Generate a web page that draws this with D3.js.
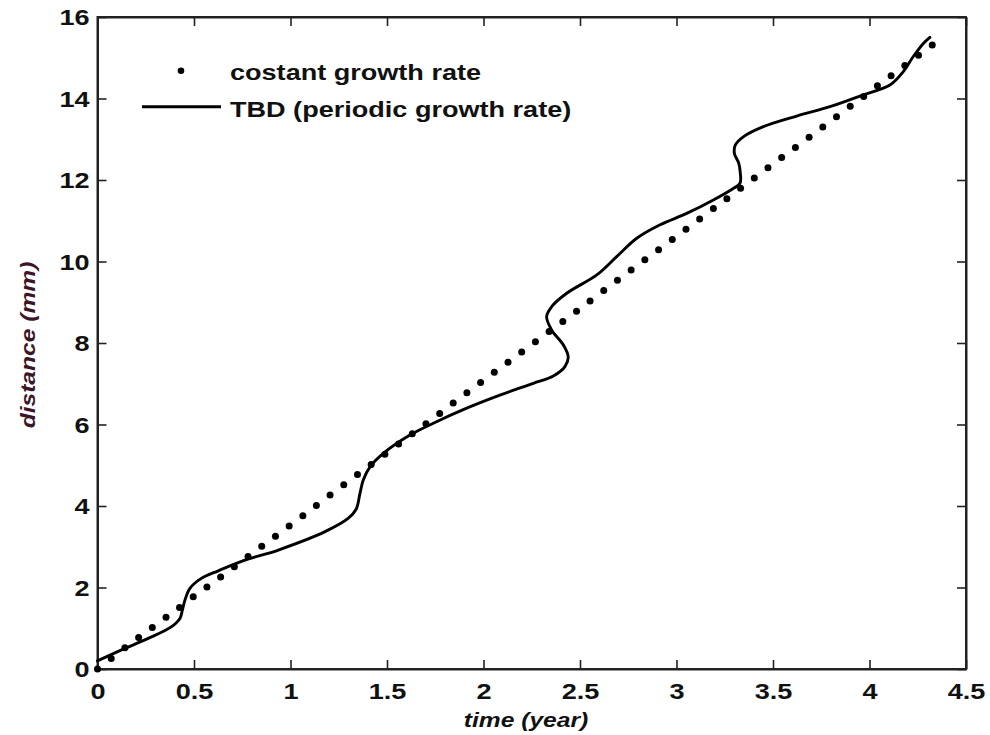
<!DOCTYPE html>
<html>
<head>
<meta charset="utf-8">
<script src="https://cdn.jsdelivr.net/npm/d3@7"></script>
<style>
  html, body { margin: 0; padding: 0; background: #fff; }
  svg { display: block; }
</style>
</head>
<body>
<svg id="chart" width="990" height="735"></svg>
<script>
// ---- data ----
const xTicks = [0, 0.5, 1, 1.5, 2, 2.5, 3, 3.5, 4, 4.5];
const xTickLabels = ["0", "0.5", "1", "1.5", "2", "2.5", "3", "3.5", "4", "4.5"];
const yTicks = [0, 2, 4, 6, 8, 10, 12, 14, 16];
const yTickLabels = ["0", "2", "4", "6", "8", "10", "12", "14", "16"];

const seriesNames = ["costant growth rate", "TBD (periodic growth rate)"];

// constant growth rate (dots)
const constT = [0, 0.071, 0.142, 0.213, 0.284, 0.355, 0.425, 0.496, 0.567, 0.638,
  0.709, 0.780, 0.851, 0.922, 0.993, 1.064, 1.134, 1.205, 1.276, 1.347,
  1.418, 1.489, 1.560, 1.631, 1.702, 1.773, 1.843, 1.914, 1.985, 2.056,
  2.127, 2.198, 2.269, 2.340, 2.411, 2.482, 2.552, 2.623, 2.694, 2.765,
  2.836, 2.907, 2.978, 3.049, 3.120, 3.191, 3.261, 3.332, 3.403, 3.474,
  3.545, 3.616, 3.687, 3.758, 3.829, 3.900, 3.970, 4.041, 4.112, 4.183,
  4.254, 4.325];
const constD = [0.00, 0.26, 0.52, 0.77, 1.02, 1.27, 1.51, 1.77, 2.01, 2.26,
  2.51, 2.76, 3.01, 3.26, 3.51, 3.76, 4.01, 4.27, 4.52, 4.77,
  5.02, 5.27, 5.52, 5.77, 6.02, 6.27, 6.53, 6.78, 7.03, 7.28,
  7.53, 7.78, 8.03, 8.28, 8.53, 8.78, 9.03, 9.29, 9.54, 9.79,
  10.04, 10.29, 10.54, 10.79, 11.04, 11.30, 11.54, 11.80, 12.05, 12.30,
  12.55, 12.80, 13.05, 13.30, 13.55, 13.81, 14.05, 14.31, 14.56, 14.81,
  15.06, 15.31];

// TBD periodic growth rate (solid line, traced in path order)
const tbdT = [0, 0.125, 0.263, 0.384, 0.427, 0.440, 0.453, 0.479, 0.540, 0.626,
  0.764, 0.937, 1.179, 1.300, 1.340, 1.360, 1.377, 1.412, 1.481, 1.619,
  1.740, 1.913, 2.085, 2.258, 2.362, 2.422, 2.439, 2.414, 2.353, 2.327,
  2.353, 2.431, 2.587, 2.690, 2.794, 2.915, 3.053, 3.191, 3.290, 3.329,
  3.330, 3.322, 3.300, 3.305, 3.346, 3.450, 3.623, 3.795, 3.968, 4.106,
  4.175, 4.227, 4.279, 4.313];
const tbdD = [0.20, 0.47, 0.75, 1.04, 1.24, 1.45, 1.69, 1.98, 2.23, 2.41,
  2.67, 2.92, 3.37, 3.70, 3.92, 4.31, 4.64, 4.96, 5.29, 5.74,
  6.03, 6.40, 6.72, 7.01, 7.19, 7.42, 7.66, 7.95, 8.32, 8.65,
  8.89, 9.22, 9.67, 10.12, 10.57, 10.90, 11.18, 11.51, 11.78, 11.92,
  12.20, 12.42, 12.65, 12.86, 13.06, 13.31, 13.57, 13.80, 14.09, 14.33,
  14.66, 15.03, 15.35, 15.50];

// ---- layout ----
const plotL = 97.5, plotR = 966, plotT = 17, plotB = 669;
const SX = 1.23;           // horizontal stretch of the text in the original
const fontFam = "'Liberation Sans', Arial, sans-serif";

const svg = d3.select("#chart");
const x = d3.scaleLinear().domain([0, 4.5]).range([plotL, plotR]);
const y = d3.scaleLinear().domain([0, 16]).range([plotB, plotT]);

const axisColor = "#222";

// bottom axis
const gx = svg.append("g").attr("transform", `translate(0,${plotB})`)
  .call(d3.axisBottom(x).tickValues(xTicks).tickFormat((d, i) => xTickLabels[i])
    .tickSizeInner(-9).tickSizeOuter(0).tickPadding(14));
// top axis
const gxt = svg.append("g").attr("transform", `translate(0,${plotT})`)
  .call(d3.axisTop(x).tickValues(xTicks).tickFormat("")
    .tickSizeInner(-9).tickSizeOuter(0));
// left axis
const gy = svg.append("g").attr("transform", `translate(${plotL},0)`)
  .call(d3.axisLeft(y).tickValues(yTicks).tickFormat((d, i) => yTickLabels[i])
    .tickSizeInner(-9).tickSizeOuter(0));
// right axis
const gyr = svg.append("g").attr("transform", `translate(${plotR},0)`)
  .call(d3.axisRight(y).tickValues(yTicks).tickFormat("")
    .tickSizeInner(-9).tickSizeOuter(0));

[gx, gxt, gy, gyr].forEach(g => {
  g.select(".domain").attr("stroke", axisColor).attr("stroke-width", 2);
  g.selectAll(".tick line").attr("stroke", axisColor).attr("stroke-width", 1.6);
  g.selectAll("text").attr("fill", "#111").style("font-family", fontFam)
    .style("font-weight", "bold").style("font-size", "22px");
});

gx.selectAll(".tick text").attr("y", null).attr("dy", null)
  .attr("transform", `translate(0,30) scale(${SX},1)`);
gy.selectAll(".tick text").attr("x", null).attr("dy", "0.36em")
  .attr("transform", `translate(-8,0) scale(${SX},1)`);

// frame (make sure the box is closed)
svg.append("rect").attr("x", plotL).attr("y", plotT)
  .attr("width", plotR - plotL).attr("height", plotB - plotT)
  .attr("fill", "none").attr("stroke", axisColor).attr("stroke-width", 2);

// ---- TBD line ----
const line = d3.line()
  .x((d, i) => x(tbdT[i]))
  .y((d, i) => y(tbdD[i]))
  .curve(d3.curveCatmullRom.alpha(0.5));
svg.append("path").datum(tbdT)
  .attr("d", line)
  .attr("fill", "none").attr("stroke", "#000").attr("stroke-width", 2.9)
  .attr("stroke-linejoin", "round").attr("stroke-linecap", "round");

// ---- constant growth dots ----
svg.append("g").selectAll("circle").data(constT).join("circle")
  .attr("cx", (d) => x(d))
  .attr("cy", (d, i) => y(constD[i]))
  .attr("r", 3.5).attr("fill", "#000");

// ---- legend ----
const lg = svg.append("g");
lg.append("circle").attr("cx", 181).attr("cy", 70.7).attr("r", 3.3).attr("fill", "#000");
lg.append("line").attr("x1", 142).attr("x2", 221).attr("y1", 106.7).attr("y2", 106.7)
  .attr("stroke", "#000").attr("stroke-width", 2.9);
lg.selectAll("text").data(seriesNames).join("text")
  .attr("transform", (d, i) => `translate(230,${i === 0 ? 80 : 117}) scale(${SX},1)`)
  .style("font-family", fontFam).style("font-weight", "bold").style("font-size", "22px")
  .attr("fill", "#111")
  .text(d => d);

// ---- axis titles ----
svg.append("text")
  .attr("transform", `translate(526,727) scale(${SX},1)`)
  .attr("text-anchor", "middle")
  .style("font-family", fontFam).style("font-weight", "bold").style("font-style", "italic")
  .style("font-size", "20px").attr("fill", "#111")
  .text("time (year)");

svg.append("text")
  .attr("transform", `translate(35,345) rotate(-90) scale(${SX},1)`)
  .attr("text-anchor", "middle")
  .style("font-family", fontFam).style("font-weight", "bold").style("font-style", "italic")
  .style("font-size", "20px").attr("fill", "#3a1628")
  .text("distance (mm)");
</script>
</body>
</html>
